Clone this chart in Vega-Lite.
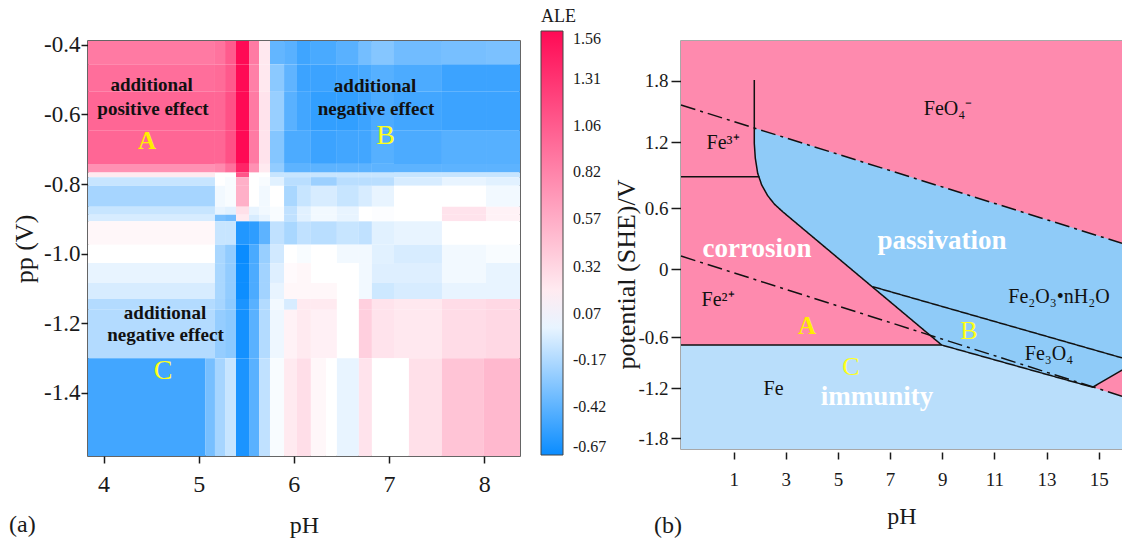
{
  "$schema": "https://vega.github.io/schema/vega-lite/v6.json",
  "background": "white",
  "autosize": {"type": "pad"},
  "padding": {"left": 8, "top": 8, "right": 0, "bottom": 0},
  "bounds": "flush",
  "spacing": 161,
  "config": {
    "font": "Liberation Serif",
    "text": {"font": "Liberation Serif"},
    "axis": {"grid": false, "labelFont": "Liberation Serif", "titleFont": "Liberation Serif", "labelColor": "#1a1a1a", "titleColor": "#1a1a1a", "tickColor": "#1a1a1a", "titleFontWeight": "normal"},
    "legend": {"labelFont": "Liberation Serif", "titleFont": "Liberation Serif"},
    "title": {"font": "Liberation Serif"}
  },
  "datasets": {
    "ale_cells": [
      {"ph0":3.837,"ph1":5.171,"pp0":-0.389,"pp1":-0.456,"ale":0.88},
      {"ph0":5.171,"ph1":5.277,"pp0":-0.389,"pp1":-0.456,"ale":0.92},
      {"ph0":5.277,"ph1":5.392,"pp0":-0.389,"pp1":-0.456,"ale":1.07},
      {"ph0":5.392,"ph1":5.529,"pp0":-0.389,"pp1":-0.456,"ale":1.56},
      {"ph0":5.529,"ph1":5.634,"pp0":-0.389,"pp1":-0.456,"ale":0.88},
      {"ph0":5.634,"ph1":5.749,"pp0":-0.389,"pp1":-0.456,"ale":0.21},
      {"ph0":5.749,"ph1":5.897,"pp0":-0.389,"pp1":-0.456,"ale":-0.40},
      {"ph0":5.897,"ph1":6.033,"pp0":-0.389,"pp1":-0.456,"ale":-0.43},
      {"ph0":6.033,"ph1":6.179,"pp0":-0.389,"pp1":-0.456,"ale":-0.51},
      {"ph0":6.179,"ph1":6.452,"pp0":-0.389,"pp1":-0.456,"ale":-0.48},
      {"ph0":6.452,"ph1":6.683,"pp0":-0.389,"pp1":-0.456,"ale":-0.43},
      {"ph0":6.683,"ph1":6.82,"pp0":-0.389,"pp1":-0.456,"ale":-0.35},
      {"ph0":6.82,"ph1":7.052,"pp0":-0.389,"pp1":-0.456,"ale":-0.30},
      {"ph0":7.052,"ph1":7.556,"pp0":-0.389,"pp1":-0.456,"ale":-0.36},
      {"ph0":7.556,"ph1":8.019,"pp0":-0.389,"pp1":-0.456,"ale":-0.34},
      {"ph0":8.019,"ph1":8.376,"pp0":-0.389,"pp1":-0.456,"ale":-0.33},

      {"ph0":3.837,"ph1":5.171,"pp0":-0.456,"pp1":-0.535,"ale":0.95},
      {"ph0":5.171,"ph1":5.277,"pp0":-0.456,"pp1":-0.535,"ale":0.97},
      {"ph0":5.277,"ph1":5.392,"pp0":-0.456,"pp1":-0.535,"ale":1.08},
      {"ph0":5.392,"ph1":5.529,"pp0":-0.456,"pp1":-0.535,"ale":1.56},
      {"ph0":5.529,"ph1":5.634,"pp0":-0.456,"pp1":-0.535,"ale":0.84},
      {"ph0":5.634,"ph1":5.749,"pp0":-0.456,"pp1":-0.535,"ale":0.21},
      {"ph0":5.749,"ph1":5.897,"pp0":-0.456,"pp1":-0.535,"ale":-0.28},
      {"ph0":5.897,"ph1":6.033,"pp0":-0.456,"pp1":-0.535,"ale":-0.41},
      {"ph0":6.033,"ph1":6.179,"pp0":-0.456,"pp1":-0.535,"ale":-0.52},
      {"ph0":6.179,"ph1":6.452,"pp0":-0.456,"pp1":-0.535,"ale":-0.52},
      {"ph0":6.452,"ph1":6.683,"pp0":-0.456,"pp1":-0.535,"ale":-0.50},
      {"ph0":6.683,"ph1":6.82,"pp0":-0.456,"pp1":-0.535,"ale":-0.48},
      {"ph0":6.82,"ph1":7.052,"pp0":-0.456,"pp1":-0.535,"ale":-0.44},
      {"ph0":7.052,"ph1":7.556,"pp0":-0.456,"pp1":-0.535,"ale":-0.47},
      {"ph0":7.556,"ph1":8.019,"pp0":-0.456,"pp1":-0.535,"ale":-0.52},
      {"ph0":8.019,"ph1":8.376,"pp0":-0.456,"pp1":-0.535,"ale":-0.52},

      {"ph0":3.837,"ph1":5.171,"pp0":-0.535,"pp1":-0.647,"ale":1.00},
      {"ph0":5.171,"ph1":5.277,"pp0":-0.535,"pp1":-0.647,"ale":1.00},
      {"ph0":5.277,"ph1":5.392,"pp0":-0.535,"pp1":-0.647,"ale":1.13},
      {"ph0":5.392,"ph1":5.529,"pp0":-0.535,"pp1":-0.647,"ale":1.56},
      {"ph0":5.529,"ph1":5.634,"pp0":-0.535,"pp1":-0.647,"ale":0.88},
      {"ph0":5.634,"ph1":5.749,"pp0":-0.535,"pp1":-0.647,"ale":0.24},
      {"ph0":5.749,"ph1":5.897,"pp0":-0.535,"pp1":-0.647,"ale":-0.24},
      {"ph0":5.897,"ph1":6.033,"pp0":-0.535,"pp1":-0.647,"ale":-0.43},
      {"ph0":6.033,"ph1":6.179,"pp0":-0.535,"pp1":-0.647,"ale":-0.50},
      {"ph0":6.179,"ph1":6.452,"pp0":-0.535,"pp1":-0.647,"ale":-0.55},
      {"ph0":6.452,"ph1":6.683,"pp0":-0.535,"pp1":-0.647,"ale":-0.55},
      {"ph0":6.683,"ph1":6.82,"pp0":-0.535,"pp1":-0.647,"ale":-0.52},
      {"ph0":6.82,"ph1":7.052,"pp0":-0.535,"pp1":-0.647,"ale":-0.47},
      {"ph0":7.052,"ph1":7.556,"pp0":-0.535,"pp1":-0.647,"ale":-0.50},
      {"ph0":7.556,"ph1":8.019,"pp0":-0.535,"pp1":-0.647,"ale":-0.52},
      {"ph0":8.019,"ph1":8.376,"pp0":-0.535,"pp1":-0.647,"ale":-0.52},

      {"ph0":3.837,"ph1":5.171,"pp0":-0.647,"pp1":-0.742,"ale":1.00},
      {"ph0":5.171,"ph1":5.277,"pp0":-0.647,"pp1":-0.742,"ale":1.00},
      {"ph0":5.277,"ph1":5.392,"pp0":-0.647,"pp1":-0.742,"ale":1.13},
      {"ph0":5.392,"ph1":5.529,"pp0":-0.647,"pp1":-0.742,"ale":1.56},
      {"ph0":5.529,"ph1":5.634,"pp0":-0.647,"pp1":-0.742,"ale":0.88},
      {"ph0":5.634,"ph1":5.749,"pp0":-0.647,"pp1":-0.742,"ale":0.24},
      {"ph0":5.749,"ph1":5.897,"pp0":-0.647,"pp1":-0.742,"ale":-0.30},
      {"ph0":5.897,"ph1":6.033,"pp0":-0.647,"pp1":-0.742,"ale":-0.47},
      {"ph0":6.033,"ph1":6.179,"pp0":-0.647,"pp1":-0.742,"ale":-0.47},
      {"ph0":6.179,"ph1":6.452,"pp0":-0.647,"pp1":-0.742,"ale":-0.52},
      {"ph0":6.452,"ph1":6.683,"pp0":-0.647,"pp1":-0.742,"ale":-0.50},
      {"ph0":6.683,"ph1":6.82,"pp0":-0.647,"pp1":-0.742,"ale":-0.50},
      {"ph0":6.82,"ph1":7.052,"pp0":-0.647,"pp1":-0.742,"ale":-0.44},
      {"ph0":7.052,"ph1":7.556,"pp0":-0.647,"pp1":-0.742,"ale":-0.47},
      {"ph0":7.556,"ph1":8.019,"pp0":-0.647,"pp1":-0.742,"ale":-0.44},
      {"ph0":8.019,"ph1":8.376,"pp0":-0.647,"pp1":-0.742,"ale":-0.44},

      {"ph0":3.837,"ph1":5.171,"pp0":-0.742,"pp1":-0.767,"ale":0.74},
      {"ph0":5.171,"ph1":5.277,"pp0":-0.742,"pp1":-0.767,"ale":0.78},
      {"ph0":5.277,"ph1":5.392,"pp0":-0.742,"pp1":-0.767,"ale":0.94},
      {"ph0":5.392,"ph1":5.529,"pp0":-0.742,"pp1":-0.767,"ale":1.40},
      {"ph0":5.529,"ph1":5.634,"pp0":-0.742,"pp1":-0.767,"ale":0.74},
      {"ph0":5.634,"ph1":5.749,"pp0":-0.742,"pp1":-0.767,"ale":0.20},
      {"ph0":5.749,"ph1":5.897,"pp0":-0.742,"pp1":-0.767,"ale":-0.26},
      {"ph0":5.897,"ph1":6.033,"pp0":-0.742,"pp1":-0.767,"ale":-0.42},
      {"ph0":6.033,"ph1":6.179,"pp0":-0.742,"pp1":-0.767,"ale":-0.42},
      {"ph0":6.179,"ph1":6.452,"pp0":-0.742,"pp1":-0.767,"ale":-0.42},
      {"ph0":6.452,"ph1":6.683,"pp0":-0.742,"pp1":-0.767,"ale":-0.42},
      {"ph0":6.683,"ph1":6.82,"pp0":-0.742,"pp1":-0.767,"ale":-0.42},
      {"ph0":6.82,"ph1":7.052,"pp0":-0.742,"pp1":-0.767,"ale":-0.42},
      {"ph0":7.052,"ph1":7.556,"pp0":-0.742,"pp1":-0.767,"ale":-0.42},
      {"ph0":7.556,"ph1":8.019,"pp0":-0.742,"pp1":-0.767,"ale":-0.42},
      {"ph0":8.019,"ph1":8.376,"pp0":-0.742,"pp1":-0.767,"ale":-0.42},

      {"ph0":3.837,"ph1":5.171,"pp0":-0.767,"pp1":-0.780,"ale":0.20},
      {"ph0":5.171,"ph1":5.277,"pp0":-0.767,"pp1":-0.780,"ale":0.07},
      {"ph0":5.277,"ph1":5.392,"pp0":-0.767,"pp1":-0.780,"ale":0.07},
      {"ph0":5.392,"ph1":5.529,"pp0":-0.767,"pp1":-0.780,"ale":1.10},
      {"ph0":5.529,"ph1":5.634,"pp0":-0.767,"pp1":-0.780,"ale":0.07},
      {"ph0":5.634,"ph1":5.749,"pp0":-0.767,"pp1":-0.780,"ale":0.07},
      {"ph0":5.749,"ph1":5.897,"pp0":-0.767,"pp1":-0.780,"ale":-0.10},
      {"ph0":5.897,"ph1":6.033,"pp0":-0.767,"pp1":-0.780,"ale":-0.10},
      {"ph0":6.033,"ph1":6.179,"pp0":-0.767,"pp1":-0.780,"ale":-0.10},
      {"ph0":6.179,"ph1":6.452,"pp0":-0.767,"pp1":-0.780,"ale":-0.10},
      {"ph0":6.452,"ph1":6.683,"pp0":-0.767,"pp1":-0.780,"ale":-0.10},
      {"ph0":6.683,"ph1":6.82,"pp0":-0.767,"pp1":-0.780,"ale":-0.10},
      {"ph0":6.82,"ph1":7.052,"pp0":-0.767,"pp1":-0.780,"ale":-0.10},
      {"ph0":7.052,"ph1":7.556,"pp0":-0.767,"pp1":-0.780,"ale":-0.10},
      {"ph0":7.556,"ph1":8.019,"pp0":-0.767,"pp1":-0.780,"ale":-0.10},
      {"ph0":8.019,"ph1":8.376,"pp0":-0.767,"pp1":-0.780,"ale":-0.10},

      {"ph0":3.837,"ph1":5.171,"pp0":-0.780,"pp1":-0.805,"ale":-0.10},
      {"ph0":5.171,"ph1":5.277,"pp0":-0.780,"pp1":-0.805,"ale":0.07},
      {"ph0":5.277,"ph1":5.392,"pp0":-0.780,"pp1":-0.805,"ale":0.05},
      {"ph0":5.392,"ph1":5.529,"pp0":-0.780,"pp1":-0.805,"ale":0.55},
      {"ph0":5.529,"ph1":5.634,"pp0":-0.780,"pp1":-0.805,"ale":0.07},
      {"ph0":5.634,"ph1":5.749,"pp0":-0.780,"pp1":-0.805,"ale":0.05},
      {"ph0":5.749,"ph1":5.897,"pp0":-0.780,"pp1":-0.805,"ale":-0.02},
      {"ph0":5.897,"ph1":6.033,"pp0":-0.780,"pp1":-0.805,"ale":-0.14},
      {"ph0":6.033,"ph1":6.179,"pp0":-0.780,"pp1":-0.805,"ale":-0.14},
      {"ph0":6.179,"ph1":6.452,"pp0":-0.780,"pp1":-0.805,"ale":-0.23},
      {"ph0":6.452,"ph1":6.683,"pp0":-0.780,"pp1":-0.805,"ale":-0.14},
      {"ph0":6.683,"ph1":6.82,"pp0":-0.780,"pp1":-0.805,"ale":-0.14},
      {"ph0":6.82,"ph1":7.052,"pp0":-0.780,"pp1":-0.805,"ale":-0.14},
      {"ph0":7.052,"ph1":7.556,"pp0":-0.780,"pp1":-0.805,"ale":-0.05},
      {"ph0":7.556,"ph1":8.019,"pp0":-0.780,"pp1":-0.805,"ale":0.00},
      {"ph0":8.019,"ph1":8.376,"pp0":-0.780,"pp1":-0.805,"ale":-0.02},

      {"ph0":3.837,"ph1":5.171,"pp0":-0.805,"pp1":-0.865,"ale":-0.20},
      {"ph0":5.171,"ph1":5.277,"pp0":-0.805,"pp1":-0.865,"ale":0.03},
      {"ph0":5.277,"ph1":5.392,"pp0":-0.805,"pp1":-0.865,"ale":0.05},
      {"ph0":5.392,"ph1":5.529,"pp0":-0.805,"pp1":-0.865,"ale":0.55},
      {"ph0":5.529,"ph1":5.634,"pp0":-0.805,"pp1":-0.865,"ale":0.07},
      {"ph0":5.634,"ph1":5.749,"pp0":-0.805,"pp1":-0.865,"ale":0.03},
      {"ph0":5.749,"ph1":5.897,"pp0":-0.805,"pp1":-0.865,"ale":0.07},
      {"ph0":5.897,"ph1":6.033,"pp0":-0.805,"pp1":-0.865,"ale":-0.19},
      {"ph0":6.033,"ph1":6.179,"pp0":-0.805,"pp1":-0.865,"ale":-0.10},
      {"ph0":6.179,"ph1":6.452,"pp0":-0.805,"pp1":-0.865,"ale":-0.05},
      {"ph0":6.452,"ph1":6.683,"pp0":-0.805,"pp1":-0.865,"ale":-0.10},
      {"ph0":6.683,"ph1":6.82,"pp0":-0.805,"pp1":-0.865,"ale":-0.05},
      {"ph0":6.82,"ph1":7.052,"pp0":-0.805,"pp1":-0.865,"ale":0.00},
      {"ph0":7.052,"ph1":7.556,"pp0":-0.805,"pp1":-0.865,"ale":0.07},
      {"ph0":7.556,"ph1":8.019,"pp0":-0.805,"pp1":-0.865,"ale":0.07},
      {"ph0":8.019,"ph1":8.376,"pp0":-0.805,"pp1":-0.865,"ale":0.03},

      {"ph0":3.837,"ph1":5.171,"pp0":-0.865,"pp1":-0.888,"ale":-0.10},
      {"ph0":5.171,"ph1":5.277,"pp0":-0.865,"pp1":-0.888,"ale":0.00},
      {"ph0":5.277,"ph1":5.392,"pp0":-0.865,"pp1":-0.888,"ale":-0.02},
      {"ph0":5.392,"ph1":5.529,"pp0":-0.865,"pp1":-0.888,"ale":0.26},
      {"ph0":5.529,"ph1":5.634,"pp0":-0.865,"pp1":-0.888,"ale":0.00},
      {"ph0":5.634,"ph1":5.749,"pp0":-0.865,"pp1":-0.888,"ale":0.03},
      {"ph0":5.749,"ph1":5.897,"pp0":-0.865,"pp1":-0.888,"ale":0.05},
      {"ph0":5.897,"ph1":6.033,"pp0":-0.865,"pp1":-0.888,"ale":-0.12},
      {"ph0":6.033,"ph1":6.179,"pp0":-0.865,"pp1":-0.888,"ale":-0.02},
      {"ph0":6.179,"ph1":6.452,"pp0":-0.865,"pp1":-0.888,"ale":0.03},
      {"ph0":6.452,"ph1":6.683,"pp0":-0.865,"pp1":-0.888,"ale":0.00},
      {"ph0":6.683,"ph1":6.82,"pp0":-0.865,"pp1":-0.888,"ale":0.07},
      {"ph0":6.82,"ph1":7.052,"pp0":-0.865,"pp1":-0.888,"ale":0.06},
      {"ph0":7.052,"ph1":7.556,"pp0":-0.865,"pp1":-0.888,"ale":0.07},
      {"ph0":7.556,"ph1":8.019,"pp0":-0.865,"pp1":-0.888,"ale":0.24},
      {"ph0":8.019,"ph1":8.376,"pp0":-0.865,"pp1":-0.888,"ale":0.15},

      {"ph0":3.837,"ph1":5.171,"pp0":-0.888,"pp1":-0.907,"ale":-0.05},
      {"ph0":5.171,"ph1":5.277,"pp0":-0.888,"pp1":-0.907,"ale":-0.33},
      {"ph0":5.277,"ph1":5.392,"pp0":-0.888,"pp1":-0.907,"ale":-0.36},
      {"ph0":5.392,"ph1":5.529,"pp0":-0.888,"pp1":-0.907,"ale":0.20},
      {"ph0":5.529,"ph1":5.634,"pp0":-0.888,"pp1":-0.907,"ale":-0.05},
      {"ph0":5.634,"ph1":5.749,"pp0":-0.888,"pp1":-0.907,"ale":0.00},
      {"ph0":5.749,"ph1":5.897,"pp0":-0.888,"pp1":-0.907,"ale":0.05},
      {"ph0":5.897,"ph1":6.033,"pp0":-0.888,"pp1":-0.907,"ale":-0.12},
      {"ph0":6.033,"ph1":6.179,"pp0":-0.888,"pp1":-0.907,"ale":-0.02},
      {"ph0":6.179,"ph1":6.452,"pp0":-0.888,"pp1":-0.907,"ale":0.03},
      {"ph0":6.452,"ph1":6.683,"pp0":-0.888,"pp1":-0.907,"ale":0.00},
      {"ph0":6.683,"ph1":6.82,"pp0":-0.888,"pp1":-0.907,"ale":0.07},
      {"ph0":6.82,"ph1":7.052,"pp0":-0.888,"pp1":-0.907,"ale":0.06},
      {"ph0":7.052,"ph1":7.556,"pp0":-0.888,"pp1":-0.907,"ale":0.07},
      {"ph0":7.556,"ph1":8.019,"pp0":-0.888,"pp1":-0.907,"ale":0.24},
      {"ph0":8.019,"ph1":8.376,"pp0":-0.888,"pp1":-0.907,"ale":0.15},

      {"ph0":3.837,"ph1":5.171,"pp0":-0.907,"pp1":-0.974,"ale":0.12},
      {"ph0":5.171,"ph1":5.277,"pp0":-0.907,"pp1":-0.974,"ale":-0.10},
      {"ph0":5.277,"ph1":5.392,"pp0":-0.907,"pp1":-0.974,"ale":-0.10},
      {"ph0":5.392,"ph1":5.529,"pp0":-0.907,"pp1":-0.974,"ale":-0.60},
      {"ph0":5.529,"ph1":5.634,"pp0":-0.907,"pp1":-0.974,"ale":-0.56},
      {"ph0":5.634,"ph1":5.749,"pp0":-0.907,"pp1":-0.974,"ale":-0.42},
      {"ph0":5.749,"ph1":5.897,"pp0":-0.907,"pp1":-0.974,"ale":-0.12},
      {"ph0":5.897,"ph1":6.033,"pp0":-0.907,"pp1":-0.974,"ale":-0.19},
      {"ph0":6.033,"ph1":6.179,"pp0":-0.907,"pp1":-0.974,"ale":-0.12},
      {"ph0":6.179,"ph1":6.452,"pp0":-0.907,"pp1":-0.974,"ale":-0.14},
      {"ph0":6.452,"ph1":6.683,"pp0":-0.907,"pp1":-0.974,"ale":-0.10},
      {"ph0":6.683,"ph1":6.82,"pp0":-0.907,"pp1":-0.974,"ale":-0.12},
      {"ph0":6.82,"ph1":7.052,"pp0":-0.907,"pp1":-0.974,"ale":-0.02},
      {"ph0":7.052,"ph1":7.556,"pp0":-0.907,"pp1":-0.974,"ale":0.00},
      {"ph0":7.556,"ph1":8.019,"pp0":-0.907,"pp1":-0.974,"ale":0.07},
      {"ph0":8.019,"ph1":8.376,"pp0":-0.907,"pp1":-0.974,"ale":0.07},

      {"ph0":3.837,"ph1":5.171,"pp0":-0.974,"pp1":-1.027,"ale":0.07},
      {"ph0":5.171,"ph1":5.277,"pp0":-0.974,"pp1":-1.027,"ale":-0.19},
      {"ph0":5.277,"ph1":5.392,"pp0":-0.974,"pp1":-1.027,"ale":-0.26},
      {"ph0":5.392,"ph1":5.529,"pp0":-0.974,"pp1":-1.027,"ale":-0.67},
      {"ph0":5.529,"ph1":5.634,"pp0":-0.974,"pp1":-1.027,"ale":-0.48},
      {"ph0":5.634,"ph1":5.749,"pp0":-0.974,"pp1":-1.027,"ale":-0.24},
      {"ph0":5.749,"ph1":5.897,"pp0":-0.974,"pp1":-1.027,"ale":-0.07},
      {"ph0":5.897,"ph1":6.033,"pp0":-0.974,"pp1":-1.027,"ale":0.07},
      {"ph0":6.033,"ph1":6.179,"pp0":-0.974,"pp1":-1.027,"ale":0.05},
      {"ph0":6.179,"ph1":6.452,"pp0":-0.974,"pp1":-1.027,"ale":0.07},
      {"ph0":6.452,"ph1":6.683,"pp0":-0.974,"pp1":-1.027,"ale":0.03},
      {"ph0":6.683,"ph1":6.82,"pp0":-0.974,"pp1":-1.027,"ale":0.03},
      {"ph0":6.82,"ph1":7.052,"pp0":-0.974,"pp1":-1.027,"ale":-0.02},
      {"ph0":7.052,"ph1":7.556,"pp0":-0.974,"pp1":-1.027,"ale":-0.05},
      {"ph0":7.556,"ph1":8.019,"pp0":-0.974,"pp1":-1.027,"ale":0.03},
      {"ph0":8.019,"ph1":8.376,"pp0":-0.974,"pp1":-1.027,"ale":0.05},

      {"ph0":3.837,"ph1":5.171,"pp0":-1.027,"pp1":-1.084,"ale":0.00},
      {"ph0":5.171,"ph1":5.277,"pp0":-1.027,"pp1":-1.084,"ale":-0.19},
      {"ph0":5.277,"ph1":5.392,"pp0":-1.027,"pp1":-1.084,"ale":-0.26},
      {"ph0":5.392,"ph1":5.529,"pp0":-1.027,"pp1":-1.084,"ale":-0.66},
      {"ph0":5.529,"ph1":5.634,"pp0":-1.027,"pp1":-1.084,"ale":-0.47},
      {"ph0":5.634,"ph1":5.749,"pp0":-1.027,"pp1":-1.084,"ale":-0.21},
      {"ph0":5.749,"ph1":5.897,"pp0":-1.027,"pp1":-1.084,"ale":-0.03},
      {"ph0":5.897,"ph1":6.033,"pp0":-1.027,"pp1":-1.084,"ale":0.10},
      {"ph0":6.033,"ph1":6.179,"pp0":-1.027,"pp1":-1.084,"ale":0.12},
      {"ph0":6.179,"ph1":6.452,"pp0":-1.027,"pp1":-1.084,"ale":0.07},
      {"ph0":6.452,"ph1":6.683,"pp0":-1.027,"pp1":-1.084,"ale":0.07},
      {"ph0":6.683,"ph1":6.82,"pp0":-1.027,"pp1":-1.084,"ale":0.03},
      {"ph0":6.82,"ph1":7.052,"pp0":-1.027,"pp1":-1.084,"ale":-0.03},
      {"ph0":7.052,"ph1":7.556,"pp0":-1.027,"pp1":-1.084,"ale":-0.03},
      {"ph0":7.556,"ph1":8.019,"pp0":-1.027,"pp1":-1.084,"ale":0.03},
      {"ph0":8.019,"ph1":8.376,"pp0":-1.027,"pp1":-1.084,"ale":0.00},

      {"ph0":3.837,"ph1":5.171,"pp0":-1.084,"pp1":-1.130,"ale":-0.05},
      {"ph0":5.171,"ph1":5.277,"pp0":-1.084,"pp1":-1.130,"ale":-0.19},
      {"ph0":5.277,"ph1":5.392,"pp0":-1.084,"pp1":-1.130,"ale":-0.26},
      {"ph0":5.392,"ph1":5.529,"pp0":-1.084,"pp1":-1.130,"ale":-0.66},
      {"ph0":5.529,"ph1":5.634,"pp0":-1.084,"pp1":-1.130,"ale":-0.47},
      {"ph0":5.634,"ph1":5.749,"pp0":-1.084,"pp1":-1.130,"ale":-0.21},
      {"ph0":5.749,"ph1":5.897,"pp0":-1.084,"pp1":-1.130,"ale":0.00},
      {"ph0":5.897,"ph1":6.033,"pp0":-1.084,"pp1":-1.130,"ale":0.12},
      {"ph0":6.033,"ph1":6.179,"pp0":-1.084,"pp1":-1.130,"ale":0.12},
      {"ph0":6.179,"ph1":6.452,"pp0":-1.084,"pp1":-1.130,"ale":0.12},
      {"ph0":6.452,"ph1":6.683,"pp0":-1.084,"pp1":-1.130,"ale":0.07},
      {"ph0":6.683,"ph1":6.82,"pp0":-1.084,"pp1":-1.130,"ale":0.03},
      {"ph0":6.82,"ph1":7.052,"pp0":-1.084,"pp1":-1.130,"ale":-0.08},
      {"ph0":7.052,"ph1":7.556,"pp0":-1.084,"pp1":-1.130,"ale":-0.05},
      {"ph0":7.556,"ph1":8.019,"pp0":-1.084,"pp1":-1.130,"ale":0.00},
      {"ph0":8.019,"ph1":8.376,"pp0":-1.084,"pp1":-1.130,"ale":0.00},

      {"ph0":3.837,"ph1":5.171,"pp0":-1.130,"pp1":-1.161,"ale":-0.16},
      {"ph0":5.171,"ph1":5.277,"pp0":-1.130,"pp1":-1.161,"ale":-0.20},
      {"ph0":5.277,"ph1":5.392,"pp0":-1.130,"pp1":-1.161,"ale":-0.27},
      {"ph0":5.392,"ph1":5.529,"pp0":-1.130,"pp1":-1.161,"ale":-0.62},
      {"ph0":5.529,"ph1":5.634,"pp0":-1.130,"pp1":-1.161,"ale":-0.43},
      {"ph0":5.634,"ph1":5.749,"pp0":-1.130,"pp1":-1.161,"ale":-0.16},
      {"ph0":5.749,"ph1":5.897,"pp0":-1.130,"pp1":-1.161,"ale":0.03},
      {"ph0":5.897,"ph1":6.033,"pp0":-1.130,"pp1":-1.161,"ale":-0.05},
      {"ph0":6.033,"ph1":6.179,"pp0":-1.130,"pp1":-1.161,"ale":0.20},
      {"ph0":6.179,"ph1":6.452,"pp0":-1.130,"pp1":-1.161,"ale":0.20},
      {"ph0":6.452,"ph1":6.683,"pp0":-1.130,"pp1":-1.161,"ale":0.07},
      {"ph0":6.683,"ph1":6.82,"pp0":-1.130,"pp1":-1.161,"ale":0.36},
      {"ph0":6.82,"ph1":7.052,"pp0":-1.130,"pp1":-1.161,"ale":0.24},
      {"ph0":7.052,"ph1":7.556,"pp0":-1.130,"pp1":-1.161,"ale":0.21},
      {"ph0":7.556,"ph1":8.019,"pp0":-1.130,"pp1":-1.161,"ale":0.28},
      {"ph0":8.019,"ph1":8.376,"pp0":-1.130,"pp1":-1.161,"ale":0.31},

      {"ph0":3.837,"ph1":5.171,"pp0":-1.161,"pp1":-1.300,"ale":-0.16},
      {"ph0":5.171,"ph1":5.277,"pp0":-1.161,"pp1":-1.300,"ale":-0.25},
      {"ph0":5.277,"ph1":5.392,"pp0":-1.161,"pp1":-1.300,"ale":-0.28},
      {"ph0":5.392,"ph1":5.529,"pp0":-1.161,"pp1":-1.300,"ale":-0.64},
      {"ph0":5.529,"ph1":5.634,"pp0":-1.161,"pp1":-1.300,"ale":-0.43},
      {"ph0":5.634,"ph1":5.749,"pp0":-1.161,"pp1":-1.300,"ale":-0.16},
      {"ph0":5.749,"ph1":5.897,"pp0":-1.161,"pp1":-1.300,"ale":0.02},
      {"ph0":5.897,"ph1":6.033,"pp0":-1.161,"pp1":-1.300,"ale":0.15},
      {"ph0":6.033,"ph1":6.179,"pp0":-1.161,"pp1":-1.300,"ale":0.20},
      {"ph0":6.179,"ph1":6.452,"pp0":-1.161,"pp1":-1.300,"ale":0.16},
      {"ph0":6.452,"ph1":6.683,"pp0":-1.161,"pp1":-1.300,"ale":0.07},
      {"ph0":6.683,"ph1":6.82,"pp0":-1.161,"pp1":-1.300,"ale":0.36},
      {"ph0":6.82,"ph1":7.052,"pp0":-1.161,"pp1":-1.300,"ale":0.24},
      {"ph0":7.052,"ph1":7.556,"pp0":-1.161,"pp1":-1.300,"ale":0.21},
      {"ph0":7.556,"ph1":8.019,"pp0":-1.161,"pp1":-1.300,"ale":0.28},
      {"ph0":8.019,"ph1":8.376,"pp0":-1.161,"pp1":-1.300,"ale":0.31},

      {"ph0":3.837,"ph1":5.072,"pp0":-1.300,"pp1":-1.581,"ale":-0.50},
      {"ph0":5.072,"ph1":5.171,"pp0":-1.300,"pp1":-1.581,"ale":-0.34},
      {"ph0":5.171,"ph1":5.277,"pp0":-1.300,"pp1":-1.581,"ale":-0.20},
      {"ph0":5.277,"ph1":5.392,"pp0":-1.300,"pp1":-1.581,"ale":-0.10},
      {"ph0":5.392,"ph1":5.529,"pp0":-1.300,"pp1":-1.581,"ale":-0.62},
      {"ph0":5.529,"ph1":5.634,"pp0":-1.300,"pp1":-1.581,"ale":-0.43},
      {"ph0":5.634,"ph1":5.749,"pp0":-1.300,"pp1":-1.581,"ale":-0.12},
      {"ph0":5.749,"ph1":5.897,"pp0":-1.300,"pp1":-1.581,"ale":0.05},
      {"ph0":5.897,"ph1":6.033,"pp0":-1.300,"pp1":-1.581,"ale":0.20},
      {"ph0":6.033,"ph1":6.179,"pp0":-1.300,"pp1":-1.581,"ale":0.27},
      {"ph0":6.179,"ph1":6.337,"pp0":-1.300,"pp1":-1.581,"ale":0.12},
      {"ph0":6.337,"ph1":6.452,"pp0":-1.300,"pp1":-1.581,"ale":0.07},
      {"ph0":6.452,"ph1":6.683,"pp0":-1.300,"pp1":-1.581,"ale":0.00},
      {"ph0":6.683,"ph1":6.82,"pp0":-1.300,"pp1":-1.581,"ale":0.24},
      {"ph0":6.82,"ph1":7.209,"pp0":-1.300,"pp1":-1.581,"ale":0.07},
      {"ph0":7.209,"ph1":7.556,"pp0":-1.300,"pp1":-1.581,"ale":0.26},
      {"ph0":7.556,"ph1":7.997,"pp0":-1.300,"pp1":-1.581,"ale":0.43},
      {"ph0":7.997,"ph1":8.376,"pp0":-1.300,"pp1":-1.581,"ale":0.50}
    ],
    "ale_notes": [
      {"ph":4.506,"pp":-0.515,"label":"additional"},
      {"ph":4.52,"pp":-0.585,"label":"positive effect"},
      {"ph":6.853,"pp":-0.518,"label":"additional"},
      {"ph":6.863,"pp":-0.585,"label":"negative effect"},
      {"ph":4.646,"pp":-1.171,"label":"additional"},
      {"ph":4.651,"pp":-1.233,"label":"negative effect"}
    ],
    "ale_marks": [
      {"ph":4.457,"pp":-0.676,"label":"A","weight":"bold"},
      {"ph":6.963,"pp":-0.661,"label":"B","weight":"normal"},
      {"ph":4.625,"pp":-1.336,"label":"C","weight":"normal"}
    ],
    "pb_background": [
      {"ph0":-1.0215,"ph1":15.895,"e0":-1.928,"e1":2.187}
    ],
    "pb_passive": [
      {"ph":1.790,"top":1.339,"bot":1.191},
      {"ph":1.829,"top":1.336,"bot":1.055},
      {"ph":1.921,"top":1.329,"bot":0.918},
      {"ph":2.074,"top":1.317,"bot":0.812},
      {"ph":2.304,"top":1.298,"bot":0.715},
      {"ph":2.557,"top":1.278,"bot":0.639},
      {"ph":2.880,"top":1.253,"bot":0.566},
      {"ph":8.979,"top":0.795,"bot":-0.691},
      {"ph":14.771,"top":0.345,"bot":-1.188},
      {"ph":15.895,"top":0.254,"bot":-0.985}
    ],
    "pb_immune": [
      {"ph":-1.0215,"top":-0.691,"bot":-1.928},
      {"ph":8.979,"top":-0.691,"bot":-1.928},
      {"ph":14.771,"top":-1.188,"bot":-1.928},
      {"ph":15.895,"top":-1.295,"bot":-1.928}
    ],
    "pb_lines": [
      {"line":"boundary","style":"solid","ord":1,"ph":1.790,"e":1.807},
      {"line":"boundary","style":"solid","ord":2,"ph":1.790,"e":1.191},
      {"line":"boundary","style":"solid","ord":3,"ph":1.829,"e":1.055},
      {"line":"boundary","style":"solid","ord":4,"ph":1.921,"e":0.918},
      {"line":"boundary","style":"solid","ord":5,"ph":2.074,"e":0.812},
      {"line":"boundary","style":"solid","ord":6,"ph":2.304,"e":0.715},
      {"line":"boundary","style":"solid","ord":7,"ph":2.557,"e":0.639},
      {"line":"boundary","style":"solid","ord":8,"ph":2.880,"e":0.566},
      {"line":"boundary","style":"solid","ord":9,"ph":8.979,"e":-0.691},
      {"line":"boundary","style":"solid","ord":10,"ph":14.771,"e":-1.188},
      {"line":"boundary","style":"solid","ord":11,"ph":15.895,"e":-0.985},
      {"line":"fe3_fe2","style":"solid","ord":1,"ph":-1.0215,"e":0.887},
      {"line":"fe3_fe2","style":"solid","ord":2,"ph":1.982,"e":0.887},
      {"line":"fe_fe2","style":"solid","ord":1,"ph":-1.0215,"e":-0.691},
      {"line":"fe_fe2","style":"solid","ord":2,"ph":8.979,"e":-0.691},
      {"line":"fe2o3_fe3o4","style":"solid","ord":1,"ph":6.332,"e":-0.155},
      {"line":"fe2o3_fe3o4","style":"solid","ord":2,"ph":15.895,"e":-0.842},
      {"line":"oxygen","style":"dashdot","ord":1,"ph":-1.0215,"e":1.563},
      {"line":"oxygen","style":"dashdot","ord":2,"ph":15.895,"e":0.254},
      {"line":"hydrogen","style":"dashdot","ord":1,"ph":-1.0215,"e":0.128},
      {"line":"hydrogen","style":"dashdot","ord":2,"ph":15.895,"e":-1.295}
    ],
    "pb_labels": [
      {"ph":9.22,"e":1.524,"label":"FeO₄⁻","kind":"species"},
      {"ph":0.59,"e":1.194,"label":"Fe³⁺","kind":"species"},
      {"ph":0.398,"e":-0.272,"label":"Fe²⁺","kind":"species"},
      {"ph":2.527,"e":-1.208,"label":"Fe","kind":"species"},
      {"ph":13.478,"e":-0.246,"label":"Fe₂O₃•nH₂O","kind":"species"},
      {"ph":13.095,"e":-0.796,"label":"Fe₃O₄","kind":"species"},
      {"ph":1.894,"e":0.198,"label":"corrosion","kind":"zone"},
      {"ph":8.99,"e":0.277,"label":"passivation","kind":"zone"},
      {"ph":6.497,"e":-1.31,"label":"immunity","kind":"zone"},
      {"ph":3.811,"e":-0.501,"label":"A","kind":"markbold"},
      {"ph":10.025,"e":-0.545,"label":"B","kind":"mark"},
      {"ph":5.498,"e":-0.955,"label":"C","kind":"mark"}
    ]
  },
  "hconcat": [
    {
      "width": 432,
      "height": 415,
      "view": {"stroke": "#333333", "strokeWidth": 1.5},
      "title": {"text": "(a)", "orient": "bottom", "anchor": "start", "frame": "group", "dx": -79, "offset": -24, "font": "Liberation Serif", "fontSize": 24, "fontWeight": "normal", "color": "#1a1a1a"},
      "layer": [
        {
          "data": {"name": "ale_cells"},
          "mark": {"type": "rect"},
          "encoding": {
            "x": {"field": "ph0", "type": "quantitative",
              "scale": {"domain": [3.837, 8.376], "nice": false, "zero": false},
              "axis": {"values": [4, 5, 6, 7, 8], "format": "d", "labelFont": "Liberation Serif", "labelFontSize": 24, "tickSize": 7, "tickWidth": 1.5, "labelPadding": 9, "domain": false,
                "title": "pH", "titleFont": "Liberation Serif", "titleFontSize": 24, "titleY": 57, "titleBaseline": "top"}},
            "x2": {"field": "ph1"},
            "y": {"field": "pp0", "type": "quantitative",
              "scale": {"domain": [-1.581, -0.389], "nice": false, "zero": false},
              "axis": {"values": [-0.4, -0.6, -0.8, -1.0, -1.2, -1.4], "labelExpr": "replace(format(datum.value, '.1f'), '\u2212', '-')", "labelFont": "Liberation Serif", "labelFontSize": 23, "tickSize": 7, "tickWidth": 1.5, "labelPadding": 1, "domain": false,
                "title": "pp (V)", "titleFont": "Liberation Serif", "titleFontSize": 26, "titleX": -51, "titleBaseline": "bottom"}},
            "y2": {"field": "pp1"},
            "color": {"field": "ale", "type": "quantitative",
              "scale": {"type": "linear", "domain": [-0.67, 0.07, 1.56], "range": ["#0a8cff", "#ffffff", "#ff0a55"], "interpolate": "rgb"},
              "legend": {"type": "gradient", "orient": "none", "legendX": 453, "legendY": -33, "direction": "vertical",
                "gradientLength": 424, "gradientThickness": 22, "gradientStrokeColor": "#444444", "gradientStrokeWidth": 1,
                "title": "ALE", "titleFont": "Liberation Serif", "titleFontSize": 18, "titleFontWeight": "normal", "titleColor": "#1a1a1a", "titlePadding": 5,
                "values": [-0.67, -0.42, -0.17, 0.07, 0.32, 0.57, 0.82, 1.06, 1.31, 1.56],
                "labelExpr": "replace(format(datum.value, '.2f'), '\u2212', '-')", "labelFont": "Liberation Serif", "labelFontSize": 16, "labelColor": "#1a1a1a", "labelOffset": 10, "labelOverlap": false}}
          }
        },
        {
          "data": {"name": "ale_notes"},
          "mark": {"type": "text", "font": "Liberation Serif", "fontSize": 19, "fontWeight": "bold", "color": "#111111", "align": "center", "baseline": "middle"},
          "encoding": {
            "x": {"field": "ph", "type": "quantitative"},
            "y": {"field": "pp", "type": "quantitative"},
            "text": {"field": "label"}
          }
        },
        {
          "data": {"name": "ale_marks"},
          "transform": [{"filter": "datum.weight == 'bold'"}],
          "mark": {"type": "text", "font": "Liberation Serif", "fontSize": 25, "fontWeight": "bold", "color": "#ffee00", "align": "center", "baseline": "middle"},
          "encoding": {
            "x": {"field": "ph", "type": "quantitative"},
            "y": {"field": "pp", "type": "quantitative"},
            "text": {"field": "label"}
          }
        },
        {
          "data": {"name": "ale_marks"},
          "transform": [{"filter": "datum.weight == 'normal'"}],
          "mark": {"type": "text", "font": "Liberation Serif", "fontSize": 28, "color": "#ffff1a", "align": "center", "baseline": "middle"},
          "encoding": {
            "x": {"field": "ph", "type": "quantitative"},
            "y": {"field": "pp", "type": "quantitative"},
            "text": {"field": "label"}
          }
        }
      ]
    },
    {
      "width": 441,
      "height": 408,
      "view": {"stroke": "#8c8c8c", "strokeWidth": 1.5},
      "title": {"text": "(b)", "orient": "bottom", "anchor": "start", "frame": "group", "dx": -27, "offset": -14, "font": "Liberation Serif", "fontSize": 24, "fontWeight": "normal", "color": "#1a1a1a"},
      "layer": [
        {
          "data": {"name": "pb_background"},
          "mark": {"type": "rect", "color": "#fe8aae"},
          "encoding": {
            "x": {"field": "ph0", "type": "quantitative",
              "scale": {"domain": [-1.0215, 15.895], "nice": false, "zero": false},
              "axis": {"values": [1, 3, 5, 7, 9, 11, 13, 15], "format": "d", "labelFont": "Liberation Serif", "labelFontSize": 19, "tickSize": 7, "tickWidth": 1.5, "offset": 3, "labelPadding": 11, "domain": false,
                "title": "pH", "titleFont": "Liberation Serif", "titleFontSize": 24, "titleY": 52, "titleBaseline": "top"}},
            "x2": {"field": "ph1"},
            "y": {"field": "e0", "type": "quantitative",
              "scale": {"domain": [-1.928, -1.8, -1.2, -0.6, 0, 0.6, 1.2, 1.8, 2.187], "range": [408, 397.3, 347.3, 296.3, 228, 167.3, 101.3, 39.7, 0], "nice": false, "zero": false},
              "axis": {"values": [-1.8, -1.2, -0.6, 0, 0.6, 1.2, 1.8], "labelExpr": "datum.value == 0 ? '0' : replace(format(datum.value, '.1f'), '\u2212', '-')", "labelFont": "Liberation Serif", "labelFontSize": 19, "tickSize": 10, "tickWidth": 1.5, "labelPadding": 3, "domain": false,
                "title": "potential (SHE)/V", "titleFont": "Liberation Serif", "titleFontSize": 26, "titleX": -42, "titleY": 233, "titleBaseline": "bottom"}},
            "y2": {"field": "e1"}
          }
        },
        {
          "data": {"name": "pb_passive"},
          "mark": {"type": "area", "color": "#8fcbf8", "opacity": 1},
          "encoding": {
            "x": {"field": "ph", "type": "quantitative"},
            "y": {"field": "top", "type": "quantitative"},
            "y2": {"field": "bot"}
          }
        },
        {
          "data": {"name": "pb_immune"},
          "mark": {"type": "area", "color": "#b9defb", "opacity": 1},
          "encoding": {
            "x": {"field": "ph", "type": "quantitative"},
            "y": {"field": "top", "type": "quantitative"},
            "y2": {"field": "bot"}
          }
        },
        {
          "data": {"name": "pb_lines"},
          "mark": {"type": "line", "color": "#111111", "strokeWidth": 1.5},
          "encoding": {
            "x": {"field": "ph", "type": "quantitative"},
            "y": {"field": "e", "type": "quantitative"},
            "detail": {"field": "line", "type": "nominal"},
            "order": {"field": "ord", "type": "quantitative"},
            "strokeDash": {"field": "style", "type": "nominal",
              "scale": {"domain": ["solid", "dashdot"], "range": [[1, 0], [15, 5, 3, 5]]},
              "legend": null}
          }
        },
        {
          "data": {"name": "pb_labels"},
          "transform": [{"filter": "datum.kind == 'species'"}],
          "mark": {"type": "text", "font": "Liberation Serif", "fontSize": 20, "color": "#111111", "align": "center", "baseline": "middle"},
          "encoding": {
            "x": {"field": "ph", "type": "quantitative"},
            "y": {"field": "e", "type": "quantitative"},
            "text": {"field": "label"}
          }
        },
        {
          "data": {"name": "pb_labels"},
          "transform": [{"filter": "datum.kind == 'zone'"}],
          "mark": {"type": "text", "font": "Liberation Serif", "fontSize": 27, "fontWeight": "bold", "color": "#ffffff", "align": "center", "baseline": "middle"},
          "encoding": {
            "x": {"field": "ph", "type": "quantitative"},
            "y": {"field": "e", "type": "quantitative"},
            "text": {"field": "label"}
          }
        },
        {
          "data": {"name": "pb_labels"},
          "transform": [{"filter": "datum.kind == 'markbold'"}],
          "mark": {"type": "text", "font": "Liberation Serif", "fontSize": 25, "fontWeight": "bold", "color": "#ffee00", "align": "center", "baseline": "middle"},
          "encoding": {
            "x": {"field": "ph", "type": "quantitative"},
            "y": {"field": "e", "type": "quantitative"},
            "text": {"field": "label"}
          }
        },
        {
          "data": {"name": "pb_labels"},
          "transform": [{"filter": "datum.kind == 'mark'"}],
          "mark": {"type": "text", "font": "Liberation Serif", "fontSize": 26, "color": "#ffff1a", "align": "center", "baseline": "middle"},
          "encoding": {
            "x": {"field": "ph", "type": "quantitative"},
            "y": {"field": "e", "type": "quantitative"},
            "text": {"field": "label"}
          }
        }
      ]
    }
  ]
}
